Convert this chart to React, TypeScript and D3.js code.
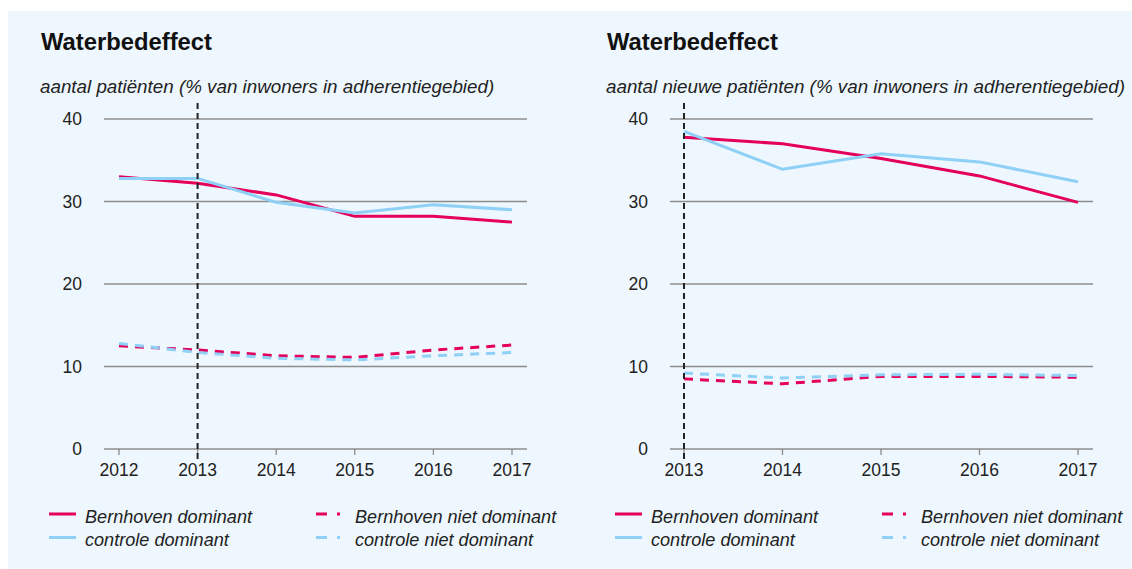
import * as d3 from "d3";

// ---- data ----
const yearsLeft = [2012, 2013, 2014, 2015, 2016, 2017];
const yearsRight = [2013, 2014, 2015, 2016, 2017];
const yTicks = [0, 10, 20, 30, 40];

const leftBernhovenDom = [33.0, 32.2, 30.8, 28.2, 28.2, 27.5];
const leftControleDom = [32.8, 32.8, 29.9, 28.6, 29.6, 29.0];
const leftBernhovenNiet = [12.5, 12.0, 11.3, 11.1, 12.0, 12.6];
const leftControleNiet = [12.8, 11.7, 11.0, 10.8, 11.3, 11.7];

const rightBernhovenDom = [37.8, 37.0, 35.2, 33.1, 29.9];
const rightControleDom = [38.5, 33.9, 35.8, 34.8, 32.4];
const rightBernhovenNiet = [8.5, 7.9, 8.8, 8.8, 8.7];
const rightControleNiet = [9.2, 8.6, 9.0, 9.05, 8.9];

const RED = "#e4005b";
const BLUE = "#8ed0f6";
const FONT = "'Liberation Sans', Arial, sans-serif";

type Series = { name: string; values: number[]; color: string; dashed: boolean };

function Panel({ x0, years, series, subtitle }: { x0: number; years: number[]; series: Series[]; subtitle: string }) {
  const gridLeft = x0 + 104;
  const gridRight = x0 + 527;
  const first = x0 + (years.length === 6 ? 119 : 118);
  const last = x0 + 512;

  const x = d3.scalePoint<number>().domain(years).range([first, last]);
  const y = d3.scaleLinear().domain([0, 40]).range([449, 119]);

  const line = d3
    .line<number>()
    .x((_, i) => x(years[i]) as number)
    .y(d => y(d));

  const markX = x(2013) as number;

  return (
    <g>
      {/* title */}
      <text x={x0 + 41} y={50} fontSize={23.8} fontWeight="bold" fontFamily={FONT} fill="#111">
        Waterbedeffect
      </text>
      <text x={x0 + 40} y={93} fontSize={18.8} fontStyle="italic" fontFamily={FONT} fill="#222">
        {subtitle}
      </text>

      {/* grid */}
      {yTicks.map(t => (
        <g key={t}>
          <line x1={gridLeft} x2={gridRight} y1={y(t)} y2={y(t)} stroke="#8c8c8c" strokeWidth={1.3} />
          <text x={x0 + 82} y={y(t) + 6.3} textAnchor="end" fontSize={17.5} fontFamily={FONT} fill="#222">
            {t}
          </text>
        </g>
      ))}

      {/* x ticks */}
      {years.map(yr => (
        <g key={yr}>
          <line x1={x(yr)} x2={x(yr)} y1={449} y2={455} stroke="#8c8c8c" strokeWidth={1.3} />
          <text x={x(yr)} y={476} textAnchor="middle" fontSize={17.5} fontFamily={FONT} fill="#222">
            {yr}
          </text>
        </g>
      ))}

      {/* series */}
      {series.map(s => (
        <path
          key={s.name}
          d={line(s.values) ?? ""}
          fill="none"
          stroke={s.color}
          strokeWidth={3}
          strokeDasharray={s.dashed ? "9,7" : undefined}
        />
      ))}

      {/* 2013 marker */}
      <line x1={markX} x2={markX} y1={103} y2={459} stroke="#222" strokeWidth={2} strokeDasharray="6,4" />

      {/* legend */}
      {series.map((s, i) => {
        const col = s.dashed ? 1 : 0;
        const row = s.color === RED ? 0 : 1;
        const ly = 514 + row * 23.5;
        const lx = x0 + (col === 0 ? 49 : 316);
        const tx = x0 + (col === 0 ? 85 : 355);
        return (
          <g key={i}>
            {s.dashed ? (
              <>
                <line x1={lx} x2={lx + 11} y1={ly} y2={ly} stroke={s.color} strokeWidth={3} />
                <line x1={lx + 21} x2={lx + 24} y1={ly} y2={ly} stroke={s.color} strokeWidth={3} />
              </>
            ) : (
              <line x1={lx} x2={lx + 27} y1={ly} y2={ly} stroke={s.color} strokeWidth={3} />
            )}
            <text x={tx} y={ly + 8.5} fontSize={18.1} fontStyle="italic" fontFamily={FONT} fill="#222">
              {s.name}
            </text>
          </g>
        );
      })}
    </g>
  );
}

export default function App() {
  const width = 1132;
  const height = 569;

  const leftSeries: Series[] = [
    { name: "Bernhoven dominant", values: leftBernhovenDom, color: RED, dashed: false },
    { name: "controle dominant", values: leftControleDom, color: BLUE, dashed: false },
    { name: "Bernhoven niet dominant", values: leftBernhovenNiet, color: RED, dashed: true },
    { name: "controle niet dominant", values: leftControleNiet, color: BLUE, dashed: true },
  ];
  const rightSeries: Series[] = [
    { name: "Bernhoven dominant", values: rightBernhovenDom, color: RED, dashed: false },
    { name: "controle dominant", values: rightControleDom, color: BLUE, dashed: false },
    { name: "Bernhoven niet dominant", values: rightBernhovenNiet, color: RED, dashed: true },
    { name: "controle niet dominant", values: rightControleNiet, color: BLUE, dashed: true },
  ];

  return (
    <svg
      width={width}
      height={height}
      style={{ position: "absolute", left: 0, top: 0, background: "#fff" }}
    >
      <rect x={8} y={11} width={width - 8} height={height - 11} fill="#eef7fe" />
      <Panel x0={0} years={yearsLeft} series={leftSeries} subtitle="aantal patiënten (% van inwoners in adherentiegebied)" />
      <Panel x0={566} years={yearsRight} series={rightSeries} subtitle="aantal nieuwe patiënten (% van inwoners in adherentiegebied)" />
    </svg>
  );
}
